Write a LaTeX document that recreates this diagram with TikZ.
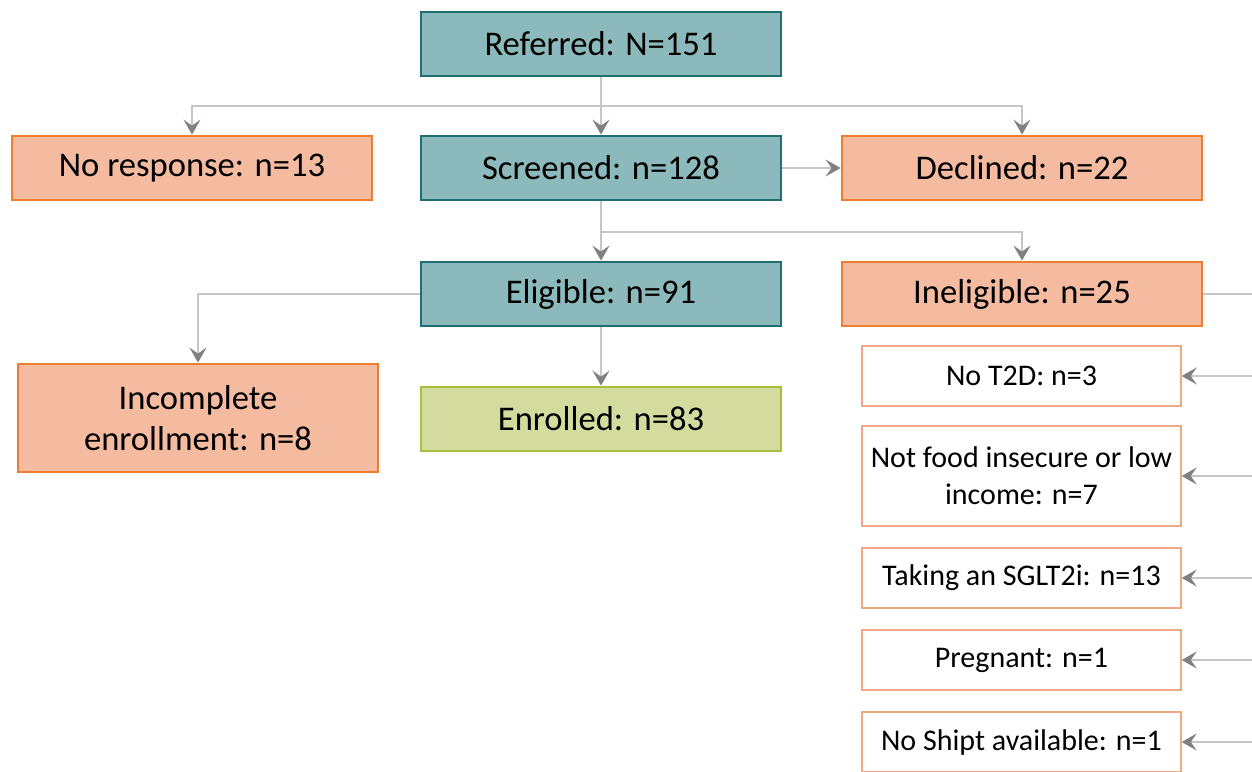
\documentclass[tikz,border=0pt]{standalone}
\usepackage{fontspec}
\setmainfont{Carlito}
\usetikzlibrary{arrows.meta}
\definecolor{tealfill}{HTML}{8CB9BB}
\definecolor{tealdraw}{HTML}{1F6F73}
\definecolor{orfill}{HTML}{F5BBA0}
\definecolor{ordraw}{HTML}{ED7D31}
\definecolor{grfill}{HTML}{D3DC9E}
\definecolor{grdraw}{HTML}{A9BF3C}
\definecolor{wdraw}{HTML}{F4A783}
\definecolor{linegray}{HTML}{C6C6C6}
\definecolor{tipgray}{HTML}{808080}
\tikzset{
  box/.style={rectangle, minimum width=180pt, minimum height=32pt, line width=1.4pt, align=center, inner sep=0pt, font=\fontsize{17.3}{20.7}\selectfont},
  tealbox/.style={box, fill=tealfill, draw=tealdraw},
  orbox/.style={box, fill=orfill, draw=ordraw},
  grbox/.style={box, fill=grfill, draw=grdraw},
  wbox/.style={rectangle, minimum width=159.5pt, minimum height=30pt, line width=0.7pt, draw=wdraw, fill=white, align=center, inner sep=0pt, font=\fontsize{15}{18.6}\selectfont},
  conn/.style={draw=linegray, line width=0.7pt},
  arr/.style={conn, -{Stealth[length=7.5pt, width=8.5pt, inset=3pt, fill=tipgray, color=tipgray]}}
}
\begin{document}
\begin{tikzpicture}[x=0.5pt, y=-0.5pt]
\useasboundingbox (0,0) rectangle (1252,771);
\clip (0,0) rectangle (1252,771);
\fill[white] (0,0) rectangle (1252,771);

\node[tealbox] (ref) at (601,44) {Referred: N=151};
\node[orbox] (nores) at (192,168) {No response: n=13};
\node[tealbox] (scr) at (601,168) {Screened: n=128};
\node[orbox] (dec) at (1022,168) {Declined: n=22};
\node[tealbox] (eli) at (601,294) {Eligible: n=91};
\node[orbox] (inel) at (1022,294) {Ineligible: n=25};
\node[orbox, minimum height=54pt] (inc) at (198,418) {Incomplete\\enrollment: n=8};
\node[grbox] (enr) at (601,419) {Enrolled: n=83};

\node[wbox] (w1) at (1021.5,376) {No T2D: n=3};
\node[wbox, minimum height=50pt] (w2) at (1021.5,476) {Not food insecure or low\\income: n=7};
\node[wbox] (w3) at (1021.5,578) {Taking an SGLT2i: n=13};
\node[wbox] (w4) at (1021.5,660) {Pregnant: n=1};
\node[wbox] (w5) at (1021.5,742) {No Shipt available: n=1};

\coordinate (s1) at (601,106);
\coordinate (s2) at (601,232);
\coordinate (r0) at (1262,294);
\coordinate (r1) at (1262,376);
\coordinate (r2) at (1262,476);
\coordinate (r3) at (1262,578);
\coordinate (r4) at (1262,660);
\coordinate (r5) at (1262,742);

\draw[conn] (ref.south) -- (s1);
\draw[arr] (s1) -- (scr.north);
\draw[arr] (s1) -| (nores.north);
\draw[arr] (s1) -| (dec.north);
\draw[arr] (scr.east) -- (dec.west);
\draw[conn] (scr.south) -- (s2);
\draw[arr] (s2) -- (eli.north);
\draw[arr] (s2) -| (inel.north);
\draw[arr] (eli.west) -| (inc.north);
\draw[arr] (eli.south) -- (enr.north);
\draw[conn] (inel.east) -- (r0);
\draw[arr] (r1) -- (w1.east);
\draw[arr] (r2) -- (w2.east);
\draw[arr] (r3) -- (w3.east);
\draw[arr] (r4) -- (w4.east);
\draw[arr] (r5) -- (w5.east);
\end{tikzpicture}
\end{document}
